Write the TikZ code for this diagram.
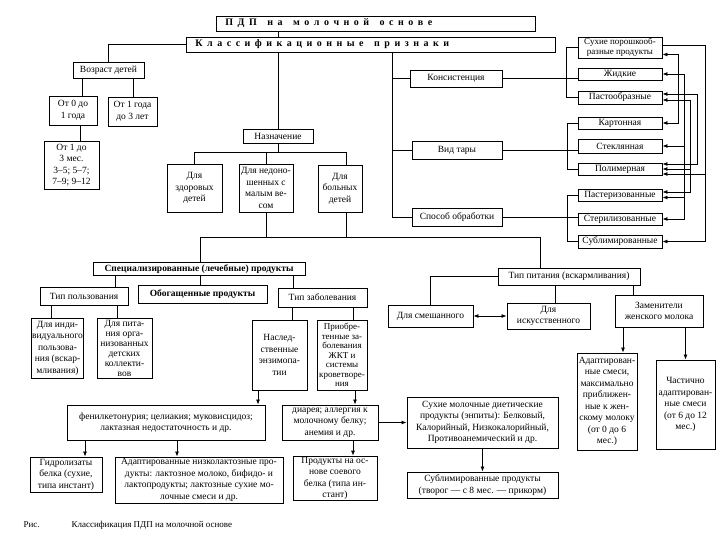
\documentclass[tikz,border=0pt]{standalone}
\usepackage{fontspec}
\setmainfont{Liberation Serif}
\usepackage{tikz}
\usetikzlibrary{arrows.meta}
\newcommand{\BoxFont}{\fontsize{9.5}{11.5}\selectfont}
\newcommand{\HeadFont}{\fontsize{10}{12}\selectfont\bfseries}
% letters of a word set apart
\def\spreadword#1{\spreadletter#1\relax}
\def\spreadletter#1{\ifx#1\relax\else#1\hskip4.5pt\expandafter\spreadletter\fi}

\begin{document}
\begin{tikzpicture}[x=1pt,y=-1pt,
    blk/.style={draw=black,line width=0.9pt,align=center,inner xsep=1pt,inner ysep=1pt,font=\BoxFont},
    ln/.style={line width=0.8pt},
    lnk/.style={line width=0.8pt,-{Latex[length=5pt,width=4pt]}},
    dlnk/.style={line width=0.8pt,{Latex[length=5pt,width=4pt]}-{Latex[length=5pt,width=4pt]}}]
  \path[use as bounding box,fill=white] (0,0) rectangle (720,540);

  % heads
  \node[draw=black,line width=0.9pt,anchor=west,text width=301pt,align=left,inner xsep=9pt,inner ysep=1pt,minimum height=15pt]
    (ttl) at (216,23.5) {{\HeadFont\spreadword{ПДП}\hskip6pt\spreadword{на}\hskip6pt\spreadword{молочной}\hskip6pt\spreadword{основе}}};
  \node[draw=black,line width=0.9pt,anchor=west,text width=351pt,align=left,inner xsep=9pt,inner ysep=1pt,minimum height=15pt]
    (cls) at (186,44.5) {{\HeadFont\spreadword{Классификационные}\hskip6pt\spreadword{признаки}}};

  % age
  \node[blk,minimum width=71,minimum height=16] (age) at (108.5,70) {Возраст детей};
  \node[blk,minimum width=48,minimum height=29] (a01) at (73,110.5) {От 0 до\\1 года};
  \node[blk,minimum width=49,minimum height=29] (a13) at (132.5,111.5) {От 1 года\\до 3 лет};
  \node[blk,minimum width=55,minimum height=48] (mon) at (71.5,165) {От 1 до\\3 мес.\\3–5; 5–7;\\7–9; 9–12};

  % purpose
  \node[blk,minimum width=70,minimum height=14] (nzn) at (278,136) {Назначение};
  \node[blk,minimum width=55,minimum height=48] (hlt) at (194.5,188) {Для\\здоровых\\детей};
  \node[blk,minimum width=54,minimum height=48] (pre) at (266,188) {Для недоно-\\шенных с\\малым ве-\\сом};
  \node[blk,minimum width=44,minimum height=47] (sck) at (340,188.5) {Для\\больных\\детей};

  % consistency, package, processing
  \node[blk,minimum width=92,minimum height=17] (kon) at (456,78.5) {Консистенция};
  \node[blk,minimum width=90,minimum height=18] (tar) at (457,150) {Вид тары};
  \node[blk,minimum width=90,minimum height=18] (obr) at (457,217) {Способ обработки};
  \node[blk,minimum width=84,minimum height=21,font=\fontsize{9}{10}\selectfont] (suh) at (620,47.5) {Сухие порошкооб-\\разные продукты};
  \node[blk,minimum width=84,minimum height=12] (zhd) at (620,74) {Жидкие};
  \node[blk,minimum width=84,minimum height=13] (pst) at (620,97.5) {Пастообразные};
  \node[blk,minimum width=84,minimum height=12] (krt) at (620,123) {Картонная};
  \node[blk,minimum width=84,minimum height=14] (stk) at (620,146) {Стеклянная};
  \node[blk,minimum width=84,minimum height=12] (plm) at (620,169) {Полимерная};
  \node[blk,minimum width=84,minimum height=12] (pas) at (620,195) {Пастеризованные};
  \node[blk,minimum width=84,minimum height=12] (ste) at (620,219) {Стерилизованные};
  \node[blk,minimum width=84,minimum height=13] (sbl) at (620,241.5) {Сублимированные};

  % special products
  \node[blk,minimum width=212,minimum height=13,font=\BoxFont\bfseries] (spc) at (199,269) {Специализированные (лечебные) продукты};
  \node[blk,minimum width=88,minimum height=18] (tpl) at (84,296) {Тип пользования};
  \node[blk,minimum width=129,minimum height=18,font=\BoxFont\bfseries] (obg) at (202.5,294) {Обогащенные продукты};
  \node[blk,minimum width=89,minimum height=19] (tzb) at (322.5,297.5) {Тип заболевания};
  \node[blk,minimum width=51,minimum height=60] (ind) at (57.5,348) {Для инди-\\видуального\\пользова-\\ния (вскар-\\мливания)};
  \node[blk,minimum width=55,minimum height=60,font=\fontsize{9.5}{10}\selectfont] (org) at (124.5,348) {Для пита-\\ния орга-\\низованных\\детских\\коллекти-\\вов};
  \node[blk,minimum width=55,minimum height=70] (nsl) at (279.5,355) {Наслед-\\ственные\\энзимопа-\\тии};
  \node[blk,minimum width=50,minimum height=70,font=\fontsize{9}{9.5}\selectfont] (prb) at (342,355) {Приобре-\\тенные за-\\болевания\\ЖКТ и\\системы\\кроветворе-\\ния};
  \node[blk,minimum width=198,minimum height=35] (fen) at (166,422.5) {фенилкетонурия; целиакия; муковисцидоз;\\лактазная недостаточность и др.};
  \node[blk,minimum width=96,minimum height=35] (dia) at (330,422.5) {диарея; аллергия к\\молочному белку;\\анемия и др.};
  \node[blk,minimum width=72,minimum height=35] (gdr) at (66,474.5) {Гидролизаты\\белка (сухие,\\типа инстант)};
  \node[blk,minimum width=168,minimum height=46] (adl) at (199,480) {Адаптированные низколактозные про-\\дукты: лактозное молоко, бифидо- и\\лактопродукты; лактозные сухие мо-\\лочные смеси и др.};
  \node[blk,minimum width=84,minimum height=43] (soy) at (335,478.5) {Продукты на ос-\\нове соевого\\белка (типа ин-\\стант)};
  \node[blk,minimum width=151,minimum height=51] (dry) at (482.5,422.5) {Сухие молочные диетические\\продукты (энпиты): Белковый,\\Калорийный, Низкокалорийный,\\Противоанемический и др.};
  \node[blk,minimum width=151,minimum height=26] (sub) at (482.5,485) {Сублимированные продукты\\(творог — с 8 мес. — прикорм)};

  % feeding
  \node[blk,minimum width=142,minimum height=17] (tpt) at (569,276.5) {Тип питания (вскармливания)};
  \node[blk,minimum width=85,minimum height=22] (mix) at (430.5,316) {Для смешанного};
  \node[blk,minimum width=83,minimum height=26] (art) at (548.5,316) {Для\\искусственного};
  \node[blk,minimum width=88,minimum height=32] (zam) at (659,311) {Заменители\\женского молока};
  \node[blk,minimum width=60,minimum height=97] (ada) at (607,401.5) {Адаптирован-\\ные смеси,\\максимально\\приближен-\\ные к жен-\\скому молоку\\(от 0 до 6\\мес.)};
  \node[blk,minimum width=59,minimum height=89] (prt) at (685.5,404.5) {Частично\\адаптирован-\\ные смеси\\(от 6 до 12\\мес.)};

  \node[anchor=west,font=\fontsize{9}{11}\selectfont] (fig) at (20,525) {Рис.};
  \node[anchor=west,font=\fontsize{9}{11}\selectfont] (capt) at (68,525) {Классификация ПДП на молочной основе};

  % bus positions
  \coordinate (ka) at (82,0);
  \coordinate (kb) at (133,0);
  \coordinate (kc) at (80,0);
  \coordinate (ksk) at (346,0);
  \coordinate (bn) at (0,152);
  \coordinate (bl) at (0,237);
  \coordinate (ksp) at (200,0);
  \coordinate (kt) at (540,0);
  \coordinate (kp) at (115,0);
  \coordinate (kz) at (293,0);
  \coordinate (ki) at (51,0);
  \coordinate (ko) at (117,0);
  \coordinate (kn) at (292,0);
  \coordinate (kr) at (353,0);
  \coordinate (kf) at (258,0);
  \coordinate (kd) at (355,0);
  \coordinate (kg) at (85,0);
  \coordinate (kl) at (177,0);
  \coordinate (kar) at (555,0);
  \coordinate (kzm) at (633,0);
  \coordinate (kad) at (623,0);
  \coordinate (kk) at (392,0);
  \coordinate (v1) at (678,0);
  \coordinate (v2) at (684,0);
  \coordinate (v3) at (690,0);
  \coordinate (v4) at (697,0);
  \coordinate (v5) at (705,0);
  \coordinate (suhA) at ([yshift=-7pt]suh.east);
  \coordinate (suhB) at ([yshift=2pt]suh.east);
  \coordinate (pstA) at ([yshift=3.5pt]pst.east);
  \coordinate (pstB) at ([yshift=-2.5pt]pst.east);
  \coordinate (plmA) at ([yshift=5pt]plm.east);
  \coordinate (plmC) at ([yshift=-5pt]plm.east);
  \coordinate (pasA) at ([yshift=3pt]pas.east);
  \coordinate (pasB) at ([yshift=-2.5pt]pas.east);

  % upper tree
  \draw[ln] (ttl.south -| nzn.north) -- (cls.north -| nzn.north);
  \draw[ln] (cls.south -| nzn.north) -- (nzn.north);
  \draw[ln] (cls.west) -| (age.north);
  \draw[ln] (age.south -| ka) -- (a01.north -| ka);
  \draw[ln] (age.south -| kb) -- (a13.north -| kb);
  \draw[ln] (a01.south -| kc) -- (mon.north -| kc);
  \draw[ln] (nzn.south) -- (nzn.south |- bn);
  \draw[ln] (hlt.north) |- (ksk |- bn) -- (sck.north -| ksk);
  \draw[ln] (pre.north |- bn) -- (pre.north);
  \draw[ln] (pre.south) -- (pre.south |- bl);
  \draw[ln] (sck.south -| ksk) -- (ksk |- bl);
  \draw[ln] (spc.north -| ksp) |- (kt |- bl) -- (tpt.north -| kt);

  % right side
  \draw[ln] (cls.south -| kk) |- (obr.west);
  \draw[ln] (kk |- kon.west) -- (kon.west);
  \draw[ln] (kk |- tar.west) -- (tar.west);
  \draw[ln] (kon.east) -- (kon.east -| zhd.west);
  \draw[ln] (tar.east) -- (tar.east -| stk.west);
  \draw[ln] (obr.east) -- (obr.east -| ste.west);
  \draw[ln] (suh.west) -- ++(-11,0) |- (pst.west);
  \draw[ln] (krt.west) -- ++(-10,0) |- (plm.west);
  \draw[ln] (pas.west) -- ++(-10,0) |- (sbl.west);
  \draw[dlnk] (suhA) -| (v1 |- krt.east) -- (krt.east);
  \draw[dlnk] (zhd.east) -| (v2 |- ste.east) -- (ste.east);
  \draw[lnk] (v2 |- stk.east) -- (stk.east);
  \draw[lnk] (v2 |- pasB) -- (pasB);
  \draw[dlnk] (pstB) -| (v3 |- pasA) -- (pasA);
  \draw[lnk] (v3 |- plm.east) -- (plm.east);
  \draw[dlnk] (pstA) -| (v4 |- plmA) -- (plmA);
  \draw[lnk] (suhB) -| (v5 |- sbl.east) -- (sbl.east);
  \draw[lnk] (v5 |- plmC) -- (plmC);

  % special products
  \draw[ln] (spc.south -| kp) -- (tpl.north -| kp);
  \draw[ln] (spc.south -| ksp) -- (obg.north -| ksp);
  \draw[ln] (spc.south -| kz) -- (tzb.north -| kz);
  \draw[ln] (tpl.south -| ki) -- (ind.north -| ki);
  \draw[ln] (tpl.south -| ko) -- (org.north -| ko);
  \draw[ln] (tzb.south -| kn) -- (nsl.north -| kn);
  \draw[ln] (tzb.south -| kr) -- (prb.north -| kr);
  \draw[lnk] (nsl.south -| kf) -- (fen.north -| kf);
  \draw[lnk] (prb.south -| kd) -- (dia.north -| kd);
  \draw[lnk] (fen.south -| kg) -- (gdr.north -| kg);
  \draw[lnk] (fen.south -| kl) -- (adl.north -| kl);
  \draw[lnk] (dia.south -| kr) -- (soy.north -| kr);
  \draw[lnk] (dia.east) -- (dry.west);
  \draw[lnk] (dry.south) -- (sub.north);

  % feeding
  \draw[ln] (tpt.west) -| (mix.north);
  \draw[ln] (tpt.south -| kar) -- (art.north -| kar);
  \draw[ln] (tpt.south -| kzm) -- (zam.north -| kzm);
  \draw[dlnk] (mix.east) -- (art.west);
  \draw[lnk] (zam.south -| kad) -- (ada.north -| kad);
  \draw[lnk] (zam.south -| prt.north) -- (prt.north);
\end{tikzpicture}
\end{document}
